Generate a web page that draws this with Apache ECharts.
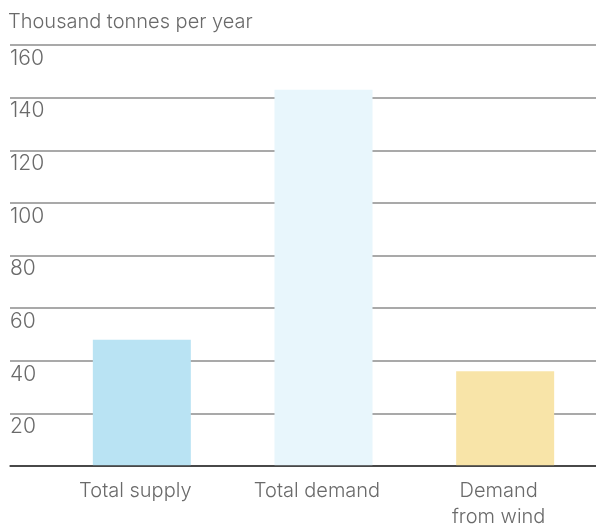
<!DOCTYPE html>
<html>
<head>
<meta charset="utf-8">
<script src="https://cdn.jsdelivr.net/npm/echarts@6/dist/echarts.min.js"></script>
<style>
  html, body { margin: 0; padding: 0; background: #fff; }
  #chart { width: 596px; height: 525px; }
</style>
</head>
<body>
<div id="chart"></div>
<script>
// ── data ──
const categories = ['Total supply', 'Total demand', 'Demand\nfrom wind']
const values = [48, 143, 36]
const barColors = ['#b9e3f3', '#e8f6fc', '#f8e4a8']
const yTicks = [0, 20, 40, 60, 80, 100, 120, 140, 160]

const textColor = '#6a6a6a'
const fontFamily = 'Inter, Lato, sans-serif'

const chart = echarts.init(document.getElementById('chart'))

// split line colours: bottom one darker (baseline), rest gray
const splitColors = yTicks.map((v, i) => (i === 0 ? '#3c3c3c' : '#8c8c8c'))

chart.setOption({
  animation: false,
  title: {
    text: 'Thousand tonnes per year',
    left: 3,
    top: 7,
    textStyle: { color: textColor, fontSize: 20, fontWeight: 300, fontFamily },
  },
  grid: [
    // grid 0: gridlines + y labels, full width
    { left: 10, right: 0, top: 45, bottom: 59, outerBoundsMode: 'none' },
    // grid 1: bars
    { left: 51, right: 0, top: 45, bottom: 59, outerBoundsMode: 'none' },
  ],
  xAxis: [
    {
      gridIndex: 0, type: 'value', min: 0, max: 1,
      axisLabel: { show: false }, axisTick: { show: false }, splitLine: { show: false },
      axisLine: { show: true, lineStyle: { color: '#3c3c3c', width: 1.5 } },
      z: 5,
    },
    {
      gridIndex: 1, type: 'category', data: categories,
      axisLine: { show: false }, axisTick: { show: false },
      axisLabel: {
        color: textColor, fontSize: 20, fontWeight: 300, fontFamily,
        margin: 12, lineHeight: 26, padding: [0, 13, 0, 0],
      },
    },
  ],
  yAxis: [
    {
      gridIndex: 0, type: 'value', min: 0, max: 160, interval: 20,
      axisLine: { show: false }, axisTick: { show: false },
      splitLine: { show: true, lineStyle: { color: splitColors, width: 1.5 } },
      axisLabel: {
        inside: true, margin: 0, verticalAlign: 'top', padding: [3, 0, 0, 0],
        color: textColor, fontSize: 21, fontWeight: 300, fontFamily,
        formatter: (v) => (v === 0 ? '' : String(v)),
      },
    },
    {
      gridIndex: 1, type: 'value', min: 0, max: 160, interval: 20, show: false,
      splitLine: { show: false },
    },
  ],
  series: [{
    type: 'bar',
    xAxisIndex: 1,
    yAxisIndex: 1,
    barWidth: 98,
    data: values.map((v, i) => ({ value: v, itemStyle: { color: barColors[i] } })),
  }],
})
</script>
</body>
</html>
